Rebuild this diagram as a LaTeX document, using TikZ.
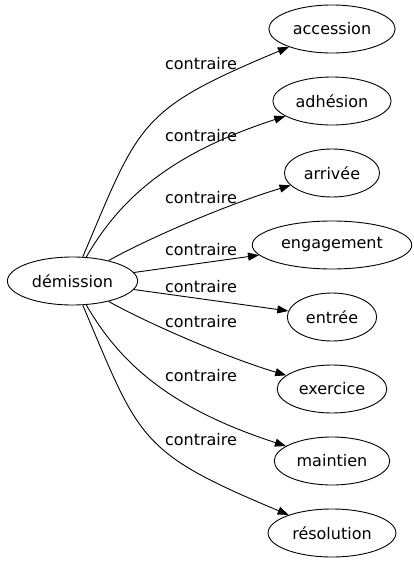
\documentclass[tikz,border=0pt]{standalone}
\usepackage{fontspec}
\setmainfont{DejaVu Sans}
\usetikzlibrary{arrows.meta,shapes.geometric}

\begin{document}
\begin{tikzpicture}[
  x=1pt, y=-1pt,
  word/.style={draw, ellipse, line width=0.9pt, minimum height=48pt, inner xsep=5.5pt, inner ysep=0pt, font=\fontsize{16}{19}\selectfont},
  lbl/.style={inner sep=0pt, font=\fontsize{16}{19}\selectfont},
  rel/.style={-{Triangle[length=11pt,width=8pt]}, line width=0.9pt}
]
\useasboundingbox (0,0) rectangle (414,563);
\node[word] (dem) at (72.5,281) {démission};
\node[word] (acc) at (332,29) {accession};
\node[word] (adh) at (332,101) {adhésion};
\node[word] (arriv) at (332,173) {arrivée};
\node[word] (eng) at (332,245) {engagement};
\node[word] (ent) at (332,317) {entrée};
\node[word] (exer) at (332,389) {exercice};
\node[word] (maint) at (332,461) {maintien};
\node[word] (res) at (332,533) {résolution};
\node[lbl] (l1) at (201,64) {contraire};
\node[lbl] (l2) at (201,136) {contraire};
\node[lbl] (l3) at (201,198) {contraire};
\node[lbl] (l4) at (201,250) {contraire};
\node[lbl] (l5) at (201,287) {contraire};
\node[lbl] (l6) at (201,322) {contraire};
\node[lbl] (l7) at (201,376) {contraire};
\node[lbl] (l8) at (201,440) {contraire};
\draw[rel] (dem) .. controls (140,122) and (138,110) .. (acc);
\draw[rel] (dem) .. controls (122,195) and (175,152) .. (adh);
\draw[rel] (dem) .. controls (145,240) and (225,205) .. (arriv);
\draw[rel] (dem) -- (eng);
\draw[rel] (dem) -- (ent);
\draw[rel] (dem) .. controls (145,322) and (225,357) .. (exer);
\draw[rel] (dem) .. controls (122,367) and (175,410) .. (maint);
\draw[rel] (dem) .. controls (140,440) and (138,452) .. (res);
\end{tikzpicture}
\end{document}
